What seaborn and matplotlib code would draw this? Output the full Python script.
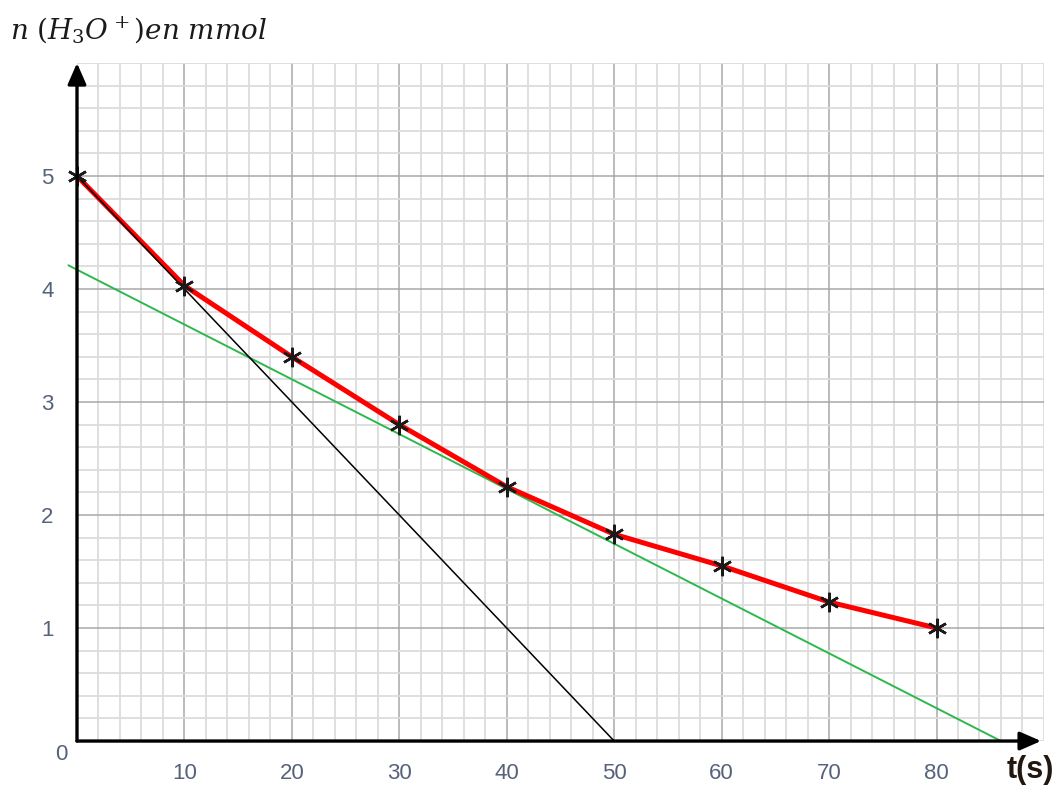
import matplotlib
matplotlib.use("Agg")
import matplotlib.pyplot as plt
import seaborn as sns
import numpy as np
from matplotlib.ticker import MultipleLocator

# measured points n(H3O+) (mmol) vs t (s)
t_s = [0, 10, 20, 30, 40, 50, 60, 70, 80]
n_mmol = [5.0, 4.03, 3.40, 2.80, 2.25, 1.83, 1.55, 1.23, 1.0]

# tangent at t = 0
tan0_t = [0, 50]
tan0_n = [5.0, 0.0]

# tangent at t = 40
tan40_t = [-0.8, 86]
tan40_n = [4.21, 0.0]

x_labels = ["10", "20", "30", "40", "50", "60", "70", "80"]
y_labels = ["1", "2", "3", "4", "5"]

sns.set_style("white")
plt.rcParams["font.family"] = ["Liberation Sans", "DejaVu Sans"]
plt.rcParams["mathtext.fontset"] = "dejavuserif"

fig = plt.figure(figsize=(10.62, 7.88), dpi=100)
ax = fig.add_axes([0.0725, 0.0596, 0.9105, 0.8604])

ax.set_xlim(0, 90)
ax.set_ylim(0, 6)

# graph paper grid
ax.set_xticks(range(10, 81, 10))
ax.set_xticklabels(x_labels)
ax.set_yticks(range(1, 6))
ax.set_yticklabels(y_labels)
ax.xaxis.set_minor_locator(MultipleLocator(2))
ax.yaxis.set_minor_locator(MultipleLocator(0.2))
ax.grid(which="minor", color="#dcdcdc", linewidth=1.3)
ax.grid(which="major", color="#a8a8a8", linewidth=1.1)
ax.set_axisbelow(True)
ax.tick_params(which="both", length=0)
ax.tick_params(axis="x", pad=16, labelsize=16, labelcolor="#56627a")
ax.tick_params(axis="y", pad=17, labelsize=16, labelcolor="#56627a")
for s in ax.spines.values():
    s.set_visible(False)

# tangents
sns.lineplot(x=tan40_t, y=tan40_n, ax=ax, color="#2db84d", linewidth=1.4,
             zorder=3).lines[-1].set_clip_on(False)

# curve + points
sns.lineplot(x=t_s, y=n_mmol, ax=ax, color="#ff0000", linewidth=3.6,
             solid_joinstyle="round", solid_capstyle="round", zorder=4)
sns.lineplot(x=tan0_t, y=tan0_n, ax=ax, color="black", linewidth=1.1, zorder=4.5)
ax.plot(t_s, n_mmol, linestyle="none", marker=(6, 2, 0), markersize=14,
        markeredgewidth=1.8, color="#1a1a1a", zorder=5, clip_on=False)

# axes with arrows
arrow = dict(arrowstyle="-|>,head_length=0.8,head_width=0.35", lw=2.4,
             color="black", mutation_scale=16, shrinkA=0, shrinkB=0)
ax.annotate("", xy=(0.997, 0), xytext=(0, 0), xycoords="axes fraction",
            arrowprops=arrow, zorder=6)
ax.annotate("", xy=(0, 1.0), xytext=(0, 0), xycoords="axes fraction",
            arrowprops=arrow, zorder=6)

ax.annotate("0", xy=(0, 0), xytext=(-11, -10), textcoords="offset points",
            ha="center", va="center", fontsize=16, color="#56627a")
fig.text(1030 / 1062, 1 - 770 / 788, "t(s)", ha="center", va="center",
         fontsize=22, fontweight="bold", color="#22180f")
fig.text(10 / 1062, 1 - 30 / 788, r"$n\ (H_3O^+)en\ mmol$", ha="left",
         va="center", fontsize=20, color="#1a1a1a")

fig.savefig("out.png", dpi=100)
